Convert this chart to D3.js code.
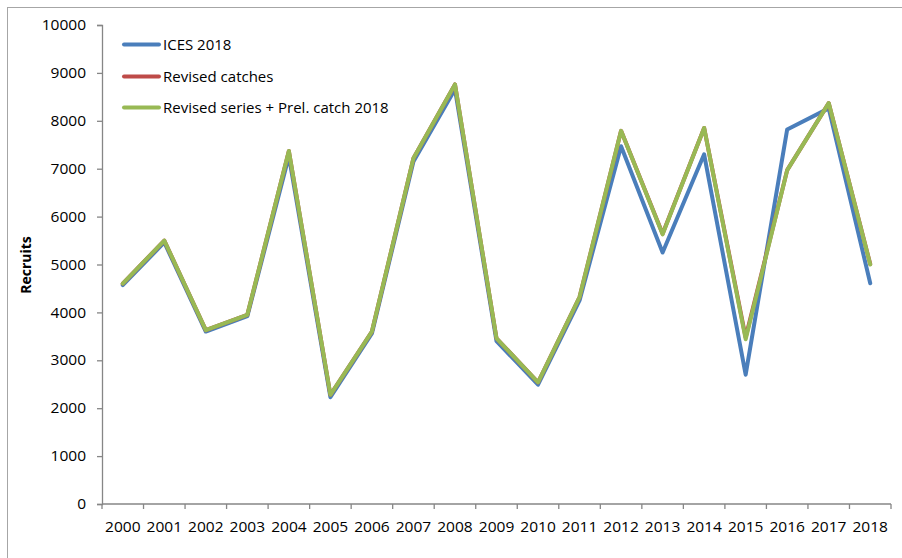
<!DOCTYPE html>
<html>
<head>
<meta charset="utf-8">
<script src="https://cdn.jsdelivr.net/npm/d3@7"></script>
<style>
  body { margin: 0; background: #fff; }
  svg { display: block; }
</style>
</head>
<body>
<svg width="902" height="558"></svg>
<script>
// ---- dati ----
var years = ["2000","2001","2002","2003","2004","2005","2006","2007","2008","2009",
             "2010","2011","2012","2013","2014","2015","2016","2017","2018"];
var ices2018 = [4570, 5460, 3600, 3920, 7260, 2230, 3560, 7150, 8660, 3400,
                2490, 4250, 7470, 5250, 7300, 2700, 7820, 8260, 4610];
var revisedCatches = [4600, 5500, 3630, 3950, 7370, 2280, 3600, 7220, 8760, 3460,
                      2540, 4320, 7790, 5640, 7850, 3480, 6970, 8370, 5010];
var revisedSeries = [4600, 5500, 3630, 3950, 7370, 2280, 3600, 7220, 8760, 3460,
                     2540, 4320, 7790, 5630, 7850, 3440, 6970, 8370, 5000];
var yTicks = [0,1000,2000,3000,4000,5000,6000,7000,8000,9000,10000];
var seriesNames = ["ICES 2018", "Revised catches", "Revised series + Prel. catch 2018"];
var seriesColors = ["#4A7EBB", "#BE4B48", "#98B954"];

var svg = d3.select("svg");

// cornice esterna
svg.append("rect")
  .attr("x", 7.5).attr("y", 7.5)
  .attr("width", 1000).attr("height", 1000)
  .attr("fill", "none")
  .attr("stroke", "#a6a6a6")
  .attr("stroke-width", 1);

var plot = {left: 102, right: 891, top: 25, bottom: 504};

var x = d3.scaleBand().domain(years).range([plot.left, plot.right]).padding(0);
var y = d3.scaleLinear().domain([0, 10000]).range([plot.bottom, plot.top]);

var axisColor = "#868686";
var tickFont = "'Open Sans', sans-serif";

// asse Y
var gy = svg.append("g")
  .attr("transform", "translate(" + plot.left + ",0)")
  .call(d3.axisLeft(y).tickValues(yTicks).tickSize(5).tickPadding(11).tickFormat(d3.format("d")));
gy.select(".domain").attr("stroke", axisColor).attr("stroke-width", 1.3);
gy.selectAll(".tick line").attr("stroke", axisColor).attr("stroke-width", 1.3);
gy.selectAll("text").attr("font-family", tickFont).attr("font-size", "14.5px").attr("fill", "#000");

// asse X (etichette centrate sulle categorie)
var gx = svg.append("g")
  .attr("transform", "translate(0," + plot.bottom + ")")
  .call(d3.axisBottom(x).tickSize(0).tickPadding(18));
gx.select(".domain").remove();
gx.selectAll("text").attr("font-family", tickFont).attr("font-size", "14.5px").attr("fill", "#000");

svg.append("line")
  .attr("x1", plot.left).attr("x2", plot.right)
  .attr("y1", plot.bottom).attr("y2", plot.bottom)
  .attr("stroke", axisColor).attr("stroke-width", 1.3);

// tacche tra le categorie
var bounds = years.map(function(d) { return x(d); }).concat([x(years[years.length - 1]) + x.bandwidth()]);
svg.append("g").selectAll("line")
  .data(bounds).enter().append("line")
  .attr("x1", function(d) { return d; }).attr("x2", function(d) { return d; })
  .attr("y1", plot.bottom).attr("y2", plot.bottom + 5)
  .attr("stroke", axisColor).attr("stroke-width", 1.3);

// allargo un po' le cifre come nell'originale
svg.selectAll(".tick text").each(function() {
  var len = this.getComputedTextLength();
  d3.select(this).attr("textLength", len * 1.07).attr("lengthAdjust", "spacingAndGlyphs");
});

// titolo asse Y
svg.append("text")
  .attr("transform", "translate(31,265) rotate(-90)")
  .attr("text-anchor", "middle")
  .attr("font-family", "'Open Sans', sans-serif")
  .attr("font-weight", "bold")
  .attr("font-size", "14px")
  .text("Recruits");

// linee
var allSeries = [ices2018, revisedCatches, revisedSeries];
var line = d3.line()
  .x(function(d, i) { return x(years[i]) + x.bandwidth() / 2; })
  .y(function(d) { return y(d); });

svg.append("g").selectAll("path")
  .data(allSeries).enter().append("path")
  .attr("d", function(d) { return line(d); })
  .attr("fill", "none")
  .attr("stroke", function(d, i) { return seriesColors[i]; })
  .attr("stroke-width", 4)
  .attr("stroke-linejoin", "round")
  .attr("stroke-linecap", "round");

// legenda
var legendY = [44.5, 76.5, 107.5];
var leg = svg.append("g").selectAll("g")
  .data(seriesNames).enter().append("g")
  .attr("transform", function(d, i) { return "translate(124," + legendY[i] + ")"; });
leg.append("line")
  .attr("x1", 0).attr("x2", 35).attr("y1", 0).attr("y2", 0)
  .attr("stroke", function(d, i) { return seriesColors[i]; })
  .attr("stroke-width", 4)
  .attr("stroke-linecap", "round");
leg.append("text")
  .attr("x", 39).attr("dy", "0.35em")
  .attr("font-family", "'Open Sans', sans-serif")
  .attr("font-size", "15px")
  .text(function(d) { return d; });
</script>
</body>
</html>
